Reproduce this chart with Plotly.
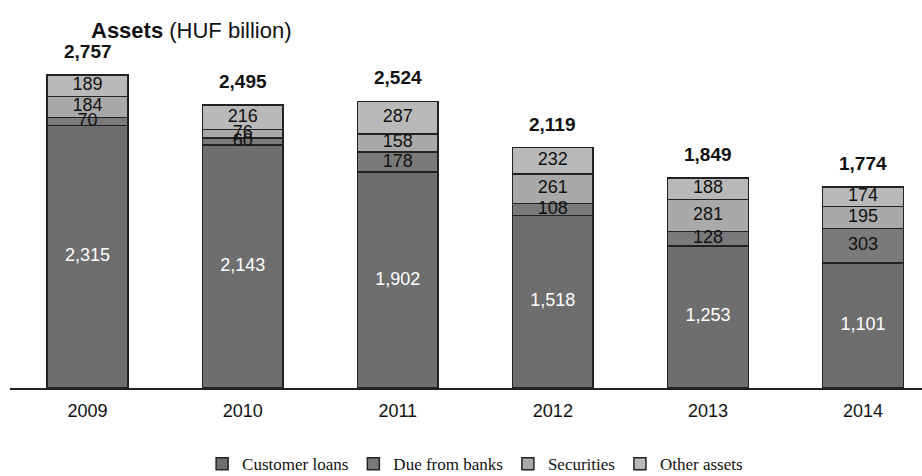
import plotly.graph_objects as go

years = ["2009", "2010", "2011", "2012", "2013", "2014"]
customer_loans = [2315, 2143, 1902, 1518, 1253, 1101]
due_from_banks = [70, 60, 178, 108, 128, 303]
securities = [184, 76, 158, 261, 281, 195]
other_assets = [189, 216, 287, 232, 188, 174]
totals = [2757, 2495, 2524, 2119, 1849, 1774]

series = [
    ("Customer loans", customer_loans, "#6e6e6e", "white"),
    ("Due from banks", due_from_banks, "#7a7a7a", "#111111"),
    ("Securities", securities, "#a9a9a9", "#111111"),
    ("Other assets", other_assets, "#b9b9b9", "#111111"),
]

fig = go.Figure()
base = [0] * len(years)
label_x, label_y, label_t, label_c = [], [], [], []
for name, vals, col, tcol in series:
    fig.add_trace(go.Bar(
        name=name, x=years, y=vals,
        marker=dict(color=col, line=dict(color="#222222", width=1.5)),
        hoverinfo="skip",
    ))
    for i, v in enumerate(vals):
        label_x.append(years[i])
        label_y.append(base[i] + v / 2)
        label_t.append(f"{v:,}")
        label_c.append(tcol)
        base[i] += v

fig.add_trace(go.Scatter(
    x=label_x, y=label_y, text=label_t, mode="text", showlegend=False,
    textfont=dict(family="Liberation Sans, Arial", size=18, color=label_c), hoverinfo="skip",
))

for i, t in enumerate(totals):
    fig.add_annotation(x=i, y=base[i], text=f"<b>{t:,}</b>", showarrow=False,
                       yanchor="bottom", yshift=11,
                       font=dict(family="Liberation Sans, Arial", size=19, color="#111111"))

fig.add_annotation(xref="paper", yref="paper", x=0.087, y=1.0, xanchor="left", yanchor="bottom",
                   yshift=3, showarrow=False,
                   text="<b>Assets</b> (HUF billion)",
                   font=dict(family="Liberation Sans, Arial", size=22, color="#111111"))

fig.update_layout(
    barmode="stack", bargap=0.48,
    width=922, height=476,
    margin=dict(l=10, r=0, t=48, b=88, autoexpand=False),
    paper_bgcolor="white", plot_bgcolor="white",
    showlegend=True,
    legend=dict(orientation="h", x=0.51, xanchor="center", yref="container", y=0.025,
                yanchor="middle",
                font=dict(family="Liberation Serif, serif", size=17, color="#111111"),
                traceorder="normal", itemwidth=30),
    xaxis=dict(type="category", range=[-0.5, 5.38], showline=True, linecolor="#222222",
               linewidth=1.5, ticks="", automargin=False, ticklabelstandoff=6,
               tickfont=dict(family="Liberation Sans, Arial", size=18, color="#111111")),
    yaxis=dict(range=[0, 2996], visible=False),
)

fig.write_html("out.html")
